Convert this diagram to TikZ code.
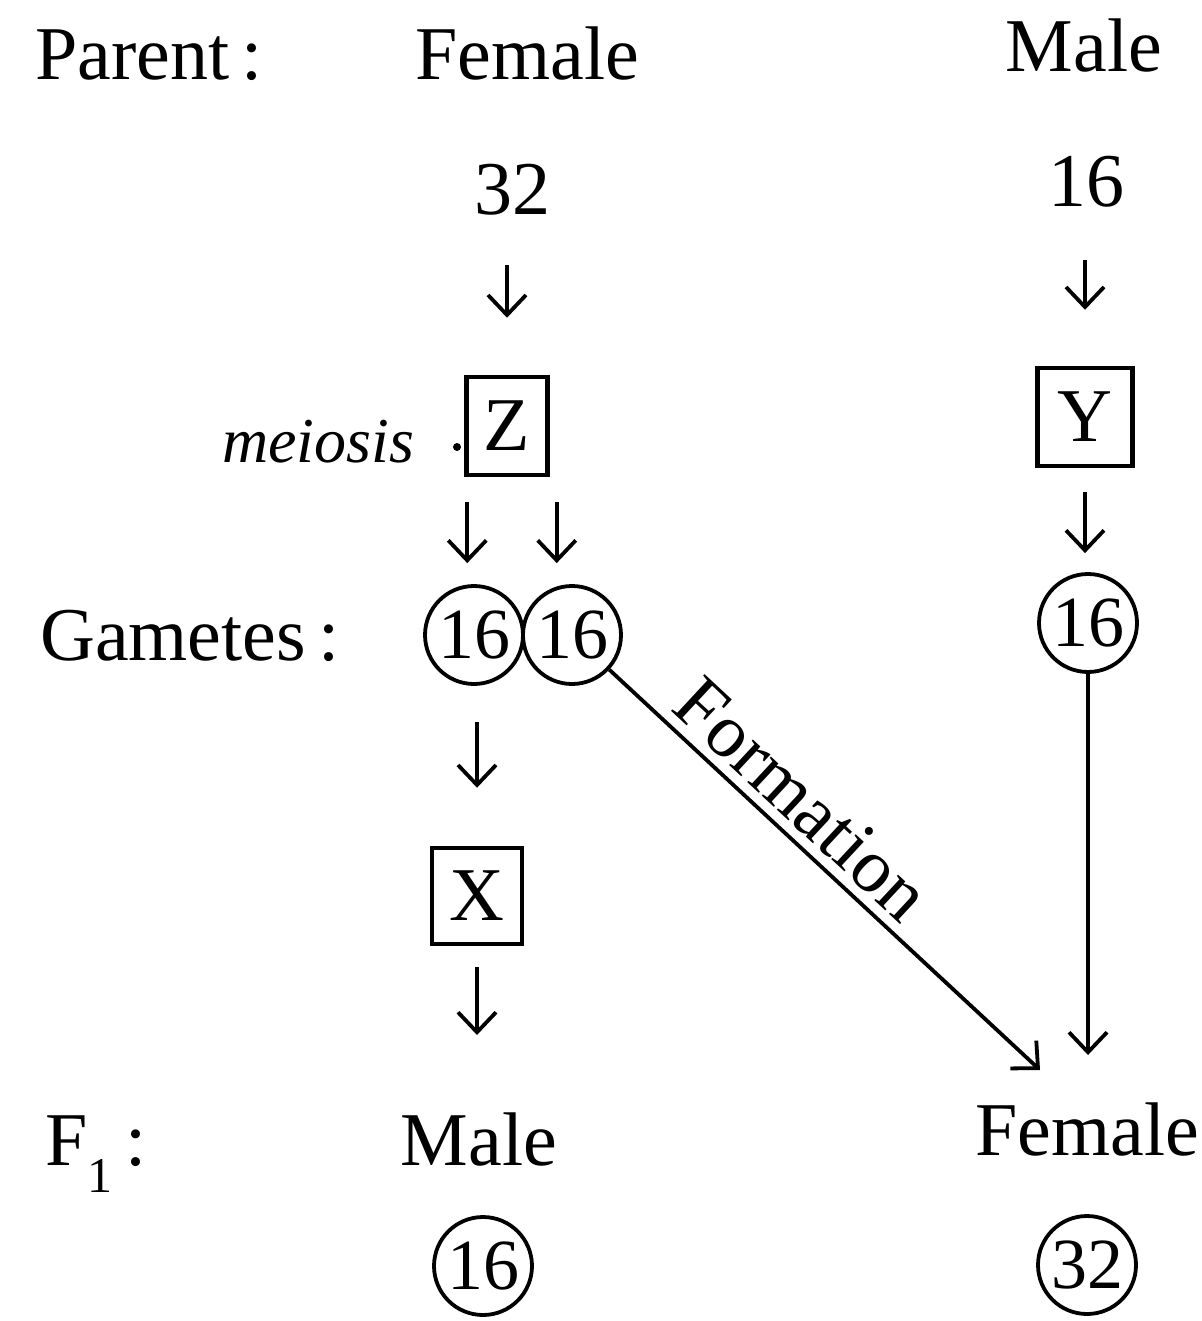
\documentclass[tikz,border=0pt]{standalone}
\usepackage{fontspec}
\setmainfont{Liberation Serif}
\usetikzlibrary{arrows.meta}
\begin{document}
\begin{tikzpicture}[x=1pt,y=-1pt,
  lbl/.style={font=\fontsize{76}{80}\selectfont, inner sep=0pt, anchor=base},
  side/.style={lbl, anchor=base west},
  box/.style={draw, line width=4.5pt, inner sep=0pt, font=\fontsize{76}{80}\selectfont},
  gam/.style={draw, circle, line width=3.8pt, inner sep=0pt, minimum size=98pt,
    font=\fontsize{72}{80}\selectfont},
  hand/.style={font=\fontsize{64}{66}\selectfont\itshape, inner sep=0pt},
  arr/.style={line width=3.8pt, -{Straight Barb[length=20pt,width=38pt,line width=3.8pt]}},
]
\useasboundingbox (0,0) rectangle (1201,1321);

% row labels
\node[side] (parent) at (35,80) {Parent\,:};
\node[side] (gametes) at (40,660) {Gametes\,:};
\node[side] (f1) at (45,1165) {F\raisebox{-27pt}{\fontsize{50}{50}\selectfont 1}\,:};

% parents
\node[lbl] (pf) at (527,80) {Female};
\node[lbl] (pm) at (1084,72) {Male};
\node[lbl] (n32) at (512,215) {32};
\node[lbl] (n16) at (1086,207) {16};

% division boxes
\node[box, minimum width=81pt, minimum height=98pt] (Z) at (507,426) {Z};
\node[box, minimum width=95pt, minimum height=98pt] (Y) at (1085,417) {Y};
\node[box, minimum width=90pt, minimum height=96pt] (X) at (477,896) {X};

% handwritten note beside Z
\node[hand] (mei) at (318,442) {meiosis};
\node[circle, fill, inner sep=0pt, minimum size=8pt] (dot) at (457,447) {};

% gametes
\node[gam] (gL) at (474,635) {16};
\node[gam] (gR) at (572,635) {16};
\node[gam] (gY) at (1088,623) {16};

% offspring
\node[lbl] (cm) at (479,1165) {Male};
\node[lbl] (cf) at (1087,1155) {Female};
\node[gam] (c16) at (483,1266) {16};
\node[gam] (c32) at (1087,1265) {32};

% arrows
\draw[arr, shorten <=50pt, shorten >=57pt] (Z.north |- n32.base) -- (Z.north);
\draw[arr, shorten <=53pt, shorten >=56pt] (Y.north |- n16.base) -- (Y.north);
\draw[arr, shorten <=25pt, shorten >=21pt] ([xshift=3pt]Z.south west) -- ([xshift=3pt]Z.south west |- gL.north);
\draw[arr, shorten <=25pt, shorten >=21pt] ([xshift=7pt]Z.south east) -- ([xshift=7pt]Z.south east |- gR.north);
\draw[arr, shorten <=24pt, shorten >=19pt] (Y.south) -- (Y.south |- gY.north);
\draw[arr, shorten <=36pt, shorten >=58pt] (X.north |- gL.south) -- (X.north);
\draw[arr, shorten <=21pt, shorten >=130pt] (X.south) -- (X.south |- cm.base);
\draw[arr, shorten >=100pt] (gY.south) -- (gY.south |- cf.base);
\coordinate (ftip) at (1040,1070);
\draw[arr] (gR) -- (ftip)
  node[pos=0.39, sloped, above, inner sep=9pt, font=\fontsize{76}{80}\selectfont] (form) {Formation};
\end{tikzpicture}
\end{document}
